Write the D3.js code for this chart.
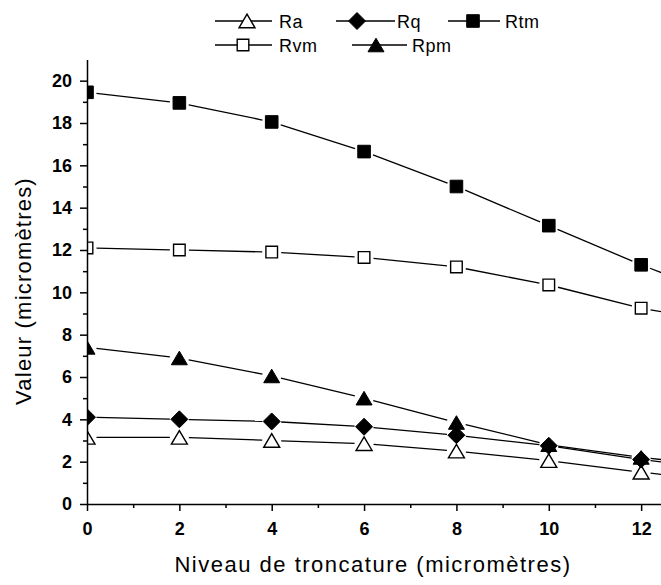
<!DOCTYPE html>
<html><head><meta charset="utf-8">
<script src="https://cdn.jsdelivr.net/npm/d3@7"></script>
<style>body{margin:0;background:#fff}svg{display:block}</style>
</head><body>
<script>
// ---- data ----
const xValues = [0, 2, 4, 6, 8, 10, 12, 14];
const Ra  = [3.15, 3.15, 3.00, 2.85, 2.50, 2.05, 1.50, 1.05];
const Rq  = [4.10, 4.00, 3.90, 3.65, 3.25, 2.75, 2.10, 1.60];
const Rtm = [19.45, 18.95, 18.05, 16.65, 15.00, 13.15, 11.30, 9.60];
const Rvm = [12.10, 12.00, 11.90, 11.65, 11.20, 10.35, 9.25, 8.50];
const Rpm = [7.40, 6.90, 6.05, 5.00, 3.85, 2.80, 2.20, 1.75];
const xTicks = [0, 2, 4, 6, 8, 10, 12];
const xMinor = [1, 3, 5, 7, 9, 11];
const yTicks = [0, 2, 4, 6, 8, 10, 12, 14, 16, 18, 20];
const yMinor = [1, 3, 5, 7, 9, 11, 13, 15, 17, 19];
const seriesNames = ["Ra", "Rq", "Rtm", "Rvm", "Rpm"];
const xTitle = "Niveau de troncature (micromètres)";
const yTitle = "Valeur (micromètres)";

const series = [
  {name: "Ra",  values: Ra,  marker: "triOpen"},
  {name: "Rq",  values: Rq,  marker: "diamond"},
  {name: "Rtm", values: Rtm, marker: "squareFill"},
  {name: "Rvm", values: Rvm, marker: "squareOpen"},
  {name: "Rpm", values: Rpm, marker: "triFill"}
];

const W = 661, H = 585;
const x = d3.scaleLinear().domain([0, 12.43]).range([87, 661]);
const y = d3.scaleLinear().domain([0, 21]).range([504, 59.5]);

const svg = d3.select("body").append("svg").attr("width", W).attr("height", H)
  .style("font-family", "'Liberation Sans', Arial, sans-serif");

svg.append("defs").append("clipPath").attr("id", "plotclip")
  .append("rect").attr("x", x(0)).attr("y", y(21))
  .attr("width", x(12.43) - x(0)).attr("height", y(0) - y(21));

function markerPath(type) {
  switch (type) {
    case "triOpen":
    case "triFill": return "M0,-6.8L8,6.8L-8,6.8Z";
    case "diamond": return "M0,-8.5L8.5,0L0,8.5L-8.5,0Z";
    case "squareFill": return "M-6.3,-6.3H6.3V6.3H-6.3Z";
    case "squareOpen": return "M-5.8,-5.8H5.8V5.8H-5.8Z";
  }
}
function drawMarker(g, type, cx, cy) {
  const open = type === "triOpen" || type === "squareOpen";
  g.append("path").attr("d", markerPath(type))
    .attr("transform", `translate(${cx},${cy})`)
    .attr("fill", open ? "#fff" : "#000")
    .attr("stroke", "#000").attr("stroke-width", open ? 1.4 : 1);
}

// ---- plot ----
const plot = svg.append("g").attr("clip-path", "url(#plotclip)");
const gap = 9.5;
series.forEach(s => {
  const pts = xValues.map((xv, i) => [x(xv), y(s.values[i])]);
  const g = plot.append("g");
  for (let i = 0; i < pts.length - 1; i++) {
    const [x1, y1] = pts[i], [x2, y2] = pts[i + 1];
    const dx = x2 - x1, dy = y2 - y1, L = Math.hypot(dx, dy);
    const ux = dx / L, uy = dy / L;
    g.append("line")
      .attr("x1", x1 + ux * gap).attr("y1", y1 + uy * gap)
      .attr("x2", x2 - ux * gap).attr("y2", y2 - uy * gap)
      .attr("stroke", "#000").attr("stroke-width", 1.3);
  }
  pts.forEach(p => drawMarker(g, s.marker, p[0], p[1]));
});

// ---- axes ----
const axisStyle = g => {
  g.selectAll("path, line").attr("stroke", "#000").attr("stroke-width", 1.5);
  g.selectAll("text").attr("fill", "#000").style("font-size", "18px")
    .style("font-weight", "bold")
    .style("font-family", "'Liberation Sans', Arial, sans-serif");
};
svg.append("g").attr("transform", `translate(0,${y(0)})`)
  .call(d3.axisBottom(x).tickValues(xMinor).tickSize(4).tickFormat("").tickSizeOuter(0))
  .call(g => g.select(".domain").remove()).call(axisStyle);
svg.append("g").attr("transform", `translate(0,${y(0)})`)
  .call(d3.axisBottom(x).tickValues(xTicks).tickSize(7).tickPadding(11).tickSizeOuter(0).tickFormat(d3.format("d")))
  .call(axisStyle);
svg.append("g").attr("transform", `translate(${x(0)},0)`)
  .call(d3.axisLeft(y).tickValues(yMinor).tickSize(4).tickFormat("").tickSizeOuter(0))
  .call(g => g.select(".domain").remove()).call(axisStyle);
svg.append("g").attr("transform", `translate(${x(0)},0)`)
  .call(d3.axisLeft(y).tickValues(yTicks).tickSize(7).tickPadding(8).tickSizeOuter(0).tickFormat(d3.format("d")))
  .call(axisStyle);

// ---- titles ----
svg.append("text").attr("x", 373).attr("y", 572).attr("text-anchor", "middle")
  .style("font-size", "22px").style("letter-spacing", "1.5px").text(xTitle);
svg.append("text").attr("transform", "translate(31,291) rotate(-90)")
  .attr("text-anchor", "middle")
  .style("font-size", "22px").style("letter-spacing", "1.2px").text(yTitle);

// ---- legend ----
const legendItems = [
  {name: seriesNames[0], marker: "triOpen",    x1: 215, x2: 272, mx: 247, tx: 279, cy: 21},
  {name: seriesNames[1], marker: "diamond",    x1: 336, x2: 395, mx: 357, tx: 397, cy: 21},
  {name: seriesNames[2], marker: "squareFill", x1: 448, x2: 500, mx: 473, tx: 505, cy: 21},
  {name: seriesNames[3], marker: "squareOpen", x1: 215, x2: 272, mx: 243, tx: 279, cy: 45},
  {name: seriesNames[4], marker: "triFill",    x1: 352, x2: 407, mx: 376, tx: 412, cy: 45}
];
const lg = svg.append("g");
legendItems.forEach(d => {
  lg.append("line").attr("x1", d.x1).attr("x2", d.x2).attr("y1", d.cy).attr("y2", d.cy)
    .attr("stroke", "#000").attr("stroke-width", 1.3);
  drawMarker(lg, d.marker, d.mx, d.cy);
  lg.append("text").attr("x", d.tx).attr("y", d.cy + 6.5)
    .style("font-size", "18px").style("letter-spacing", "0.5px").text(d.name);
});
</script>
</body></html>
